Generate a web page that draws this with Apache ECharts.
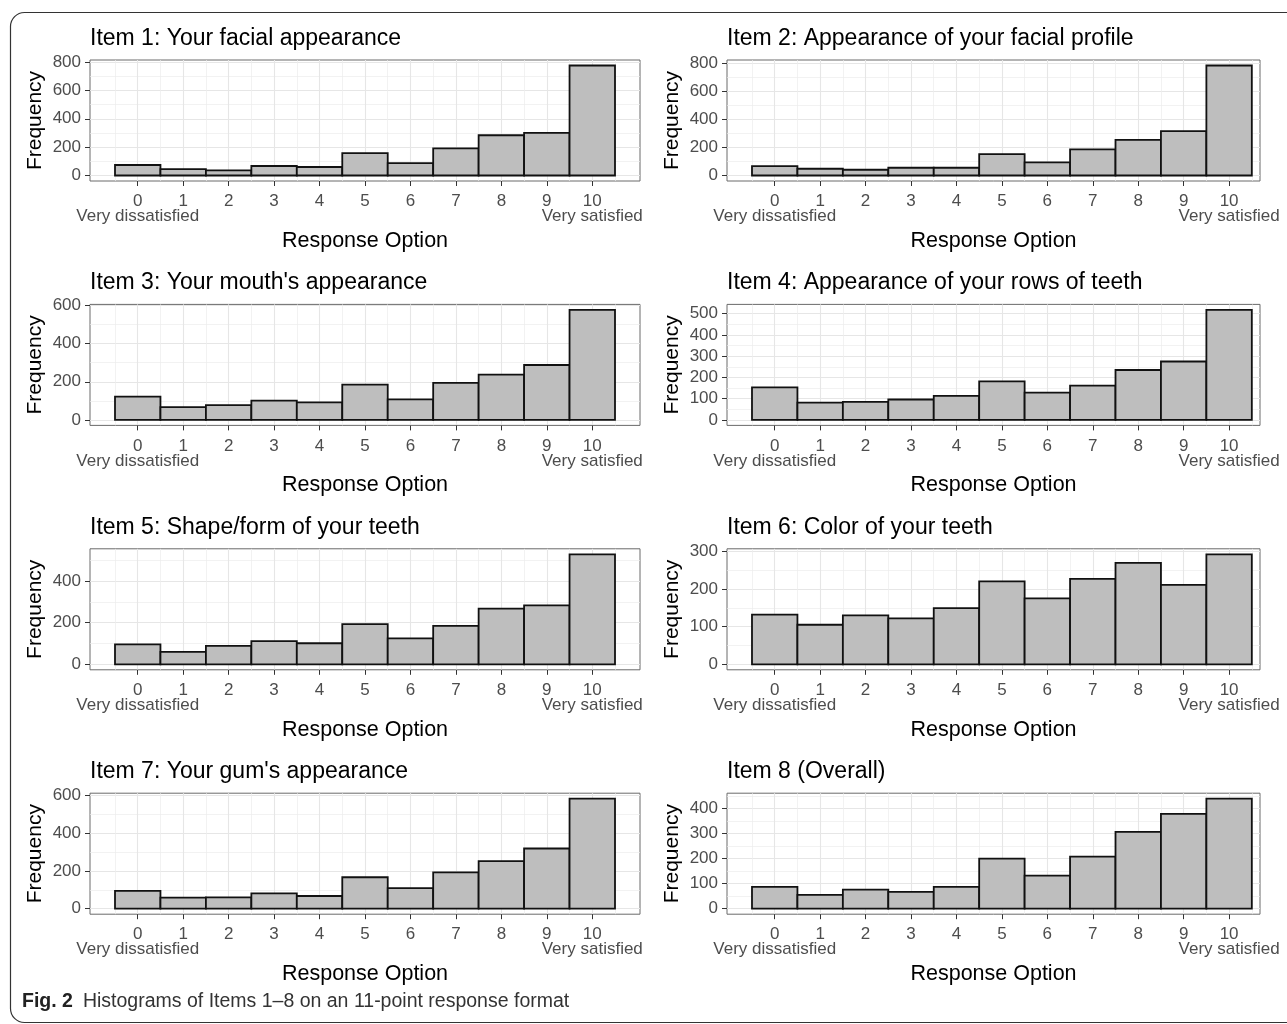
<!DOCTYPE html>
<html><head><meta charset="utf-8">
<script src="https://cdn.jsdelivr.net/npm/echarts@6/dist/echarts.min.js"></script>
<style>html,body{margin:0;padding:0;background:#fff}#c{width:1287px;height:1024px}</style>
</head><body><div id="c"></div>
<script>
// ---- data ----
const responseOptions = [0, 1, 2, 3, 4, 5, 6, 7, 8, 9, 10];
const xTickLabels = ['0', '1', '2', '3', '4', '5', '6', '7', '8', '9', '10'];
const anchorOptions = [0, 10];
const anchorLabels = ['Very dissatisfied', 'Very satisfied'];
const panelTitles = [
  'Item 1: Your facial appearance',
  'Item 2: Appearance of your facial profile',
  "Item 3: Your mouth's appearance",
  'Item 4: Appearance of your rows of teeth',
  'Item 5: Shape/form of your teeth',
  'Item 6: Color of your teeth',
  "Item 7: Your gum's appearance",
  'Item 8 (Overall)'
];
const item1 = [74, 45, 36, 67, 60, 158, 88, 191, 284, 301, 776];
const item2 = [67, 48, 41, 55, 55, 152, 94, 186, 253, 316, 783];
const item3 = [122, 67, 78, 101, 92, 185, 108, 194, 237, 288, 577];
const item4 = [153, 81, 85, 96, 113, 181, 128, 161, 235, 275, 518];
const item5 = [96, 60, 88, 111, 101, 193, 124, 184, 267, 283, 528];
const item6 = [132, 105, 130, 122, 149, 220, 175, 227, 269, 211, 292];
const item7 = [94, 58, 60, 81, 67, 166, 109, 192, 251, 318, 581];
const item8 = [87, 55, 76, 67, 87, 200, 132, 208, 307, 379, 440];
const yTicks1 = [0, 200, 400, 600, 800];
const yTicks2 = [0, 200, 400, 600, 800];
const yTicks3 = [0, 200, 400, 600];
const yTicks4 = [0, 100, 200, 300, 400, 500];
const yTicks5 = [0, 200, 400];
const yTicks6 = [0, 100, 200, 300];
const yTicks7 = [0, 200, 400, 600];
const yTicks8 = [0, 100, 200, 300, 400];
const captionLabel = 'Fig. 2';
const captionText = 'Histograms of Items 1–8 on an 11-point response format';
const xAxisTitle = 'Response Option';
const yAxisTitle = 'Frequency';

const items = [item1, item2, item3, item4, item5, item6, item7, item8];
const yTicks = [yTicks1, yTicks2, yTicks3, yTicks4, yTicks5, yTicks6, yTicks7, yTicks8];

// ---- layout ----
const FONT = "'Liberation Sans', Arial, sans-serif";
const colLeft = [90, 727];
const colWidth = [550, 533];
const colXMax = [11.05, 10.68];
const rowTop0 = 60, rowPitch = 244.4, plotH = 121;
const titleTop0 = 25;

function minorOf(ticks, lo, hi) {
  const step = ticks[1] - ticks[0];
  const out = [];
  for (let k = -1; k < ticks.length; k++) {
    const v = (k < 0 ? ticks[0] - step : ticks[k]) + step / 2;
    if (v >= lo && v <= hi) out.push(v);
  }
  return out;
}

const grids = [], xAxes = [], yAxes = [], series = [], titles = [];
items.forEach((vals, i) => {
  const col = i % 2, row = Math.floor(i / 2);
  const top = rowTop0 + row * rowPitch;
  grids.push({
    left: colLeft[col], top: top, width: colWidth[col], height: plotH,
    show: true, borderColor: '#6a6a6a', borderWidth: 1, backgroundColor: '#fff',
    containLabel: false, outerBoundsMode: 'none'
  });
  const xmin = -1.05, xmax = colXMax[col];
  const vmax = Math.max.apply(null, vals);
  const ymin = -0.05 * vmax, ymax = 1.05 * vmax;
  const minorX = minorOf(responseOptions, xmin, xmax);
  const minorY = minorOf(yTicks[i], ymin, ymax);
  // main x axis: digits, ticks, major vertical grid lines
  xAxes.push({
    gridIndex: i, type: 'value', min: xmin, max: xmax, position: 'bottom',
    axisLine: { show: false, onZero: false },
    axisTick: { show: true, length: 5, customValues: responseOptions, lineStyle: { color: '#333', width: 1 } },
    axisLabel: {
      customValues: responseOptions, color: '#4d4d4d', fontSize: 17, lineHeight: 17, margin: 12,
      fontFamily: FONT, showMinLabel: true, showMaxLabel: true, hideOverlap: false,
      formatter: v => xTickLabels[responseOptions.indexOf(Math.round(v))]
    },
    splitLine: { show: true, lineStyle: { color: '#e6e6e6', width: 1.1 } },
    name: xAxisTitle, nameLocation: 'middle', nameGap: 49,
    nameTextStyle: { fontSize: 21.5, color: '#000', fontFamily: FONT }
  });
  // secondary x axis: minor vertical grid lines + anchor captions
  xAxes.push({
    gridIndex: i, type: 'value', min: xmin, max: xmax, position: 'bottom',
    axisLine: { show: false, onZero: false },
    axisTick: { show: false, customValues: minorX },
    axisLabel: {
      customValues: anchorOptions, color: '#4d4d4d', fontSize: 17, lineHeight: 17, margin: 27,
      fontFamily: FONT, showMinLabel: true, showMaxLabel: true, hideOverlap: false,
      formatter: v => anchorLabels[anchorOptions.indexOf(Math.round(v))]
    },
    splitLine: { show: true, lineStyle: { color: '#ececec', width: 0.7 } }
  });
  yAxes.push({
    gridIndex: i, type: 'value', min: ymin, max: ymax, position: 'left',
    axisLine: { show: false, onZero: false },
    axisTick: { show: true, length: 5, customValues: yTicks[i], lineStyle: { color: '#333', width: 1 } },
    axisLabel: { customValues: yTicks[i], color: '#4d4d4d', fontSize: 17, margin: 9, fontFamily: FONT,
      showMinLabel: true, showMaxLabel: true, hideOverlap: false },
    splitLine: { show: true, lineStyle: { color: '#e6e6e6', width: 1.1 } },
    name: yAxisTitle, nameLocation: 'middle', nameGap: 44, nameRotate: 90,
    nameTextStyle: { fontSize: 21, color: '#000', fontFamily: FONT }
  });
  yAxes.push({
    gridIndex: i, type: 'value', min: ymin, max: ymax, position: 'right',
    axisLine: { show: false, onZero: false },
    axisTick: { show: false, customValues: minorY },
    axisLabel: { show: false, customValues: minorY },
    splitLine: { show: true, lineStyle: { color: '#ececec', width: 0.7 } }
  });
  series.push({
    type: 'custom', xAxisIndex: 2 * i, yAxisIndex: 2 * i, silent: true, clip: false,
    data: responseOptions.map((x, j) => [x, vals[j]]),
    encode: { x: 0, y: 1 },
    renderItem: function (params, api) {
      const x = api.value(0), y = api.value(1);
      const p0 = api.coord([x - 0.5, y]);
      const p1 = api.coord([x + 0.5, 0]);
      return {
        type: 'rect',
        shape: { x: p0[0], y: p0[1], width: p1[0] - p0[0], height: p1[1] - p0[1] },
        style: { fill: '#bebebe', stroke: '#111', lineWidth: 1.8 }
      };
    }
  });
  titles.push({
    text: panelTitles[i], left: colLeft[col], top: titleTop0 + row * rowPitch, padding: 0,
    textStyle: { fontSize: 23, fontWeight: 'normal', color: '#000', fontFamily: FONT, lineHeight: 27 }
  });
});
titles.push({
  text: '{b|' + captionLabel + '}  {n|' + captionText + '}',
  left: 22, top: 992, padding: 0,
  textStyle: {
    fontFamily: FONT, fontWeight: 'normal',
    rich: {
      b: { fontWeight: 'bold', fontSize: 19.5, color: '#222', fontFamily: FONT },
      n: { fontWeight: 'normal', fontSize: 19.5, color: '#333', fontFamily: FONT }
    }
  }
});

const chart = echarts.init(document.getElementById('c'), null, { renderer: 'canvas' });
chart.setOption({
  animation: false,
  backgroundColor: '#fff',
  title: titles,
  grid: grids,
  xAxis: xAxes,
  yAxis: yAxes,
  series: series,
  graphic: [{
    type: 'rect', silent: true, z: 100,
    shape: { x: 10.5, y: 12.5, width: 1400, height: 1010, r: 14 },
    style: { fill: 'none', stroke: '#333', lineWidth: 1.2 }
  }]
});
</script></body></html>
